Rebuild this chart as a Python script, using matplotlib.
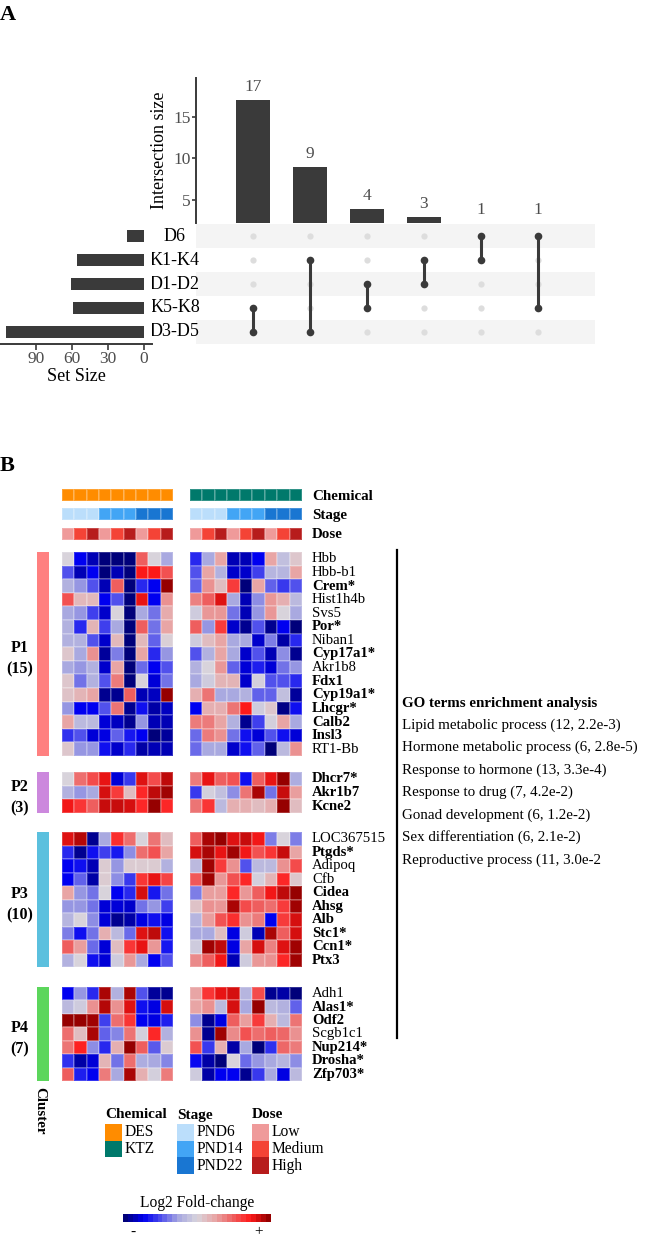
import numpy as np
import matplotlib
matplotlib.use("Agg")
import matplotlib.pyplot as plt
from matplotlib.colors import LinearSegmentedColormap, ListedColormap, Normalize
from matplotlib.patches import Rectangle
import matplotlib.colorbar as mcolorbar

plt.rcParams['font.family'] = ['Liberation Serif', 'DejaVu Serif']

W, H = 646, 1241

# Panel A: UpSet data
set_names = ["D6", "K1-K4", "D1-D2", "K5-K8", "D3-D5"]
set_sizes = [14, 56, 61, 59, 115]
inter_sizes = [17, 9, 4, 3, 1, 1]
inter_members = [["K5-K8", "D3-D5"], ["K1-K4", "D3-D5"], ["D1-D2", "K5-K8"],
                 ["K1-K4", "D1-D2"], ["D6", "K1-K4"], ["D6", "K5-K8"]]

# Panel B: column annotations (9 DES + 9 KTZ samples)
chemical = ["DES"] * 9 + ["KTZ"] * 9
stage = (["PND6"] * 3 + ["PND14"] * 3 + ["PND22"] * 3) * 2
dose = ["Low", "Medium", "High"] * 6

chem_colors = {"DES": "#FF8C00", "KTZ": "#00796B"}
stage_colors = {"PND6": "#BBDEFB", "PND14": "#42A5F5", "PND22": "#1976D2"}
dose_colors = {"Low": "#EF9A9A", "Medium": "#F44336", "High": "#B71C1C"}

# clusters
cluster_names = ["P1", "P2", "P3", "P4"]
cluster_colors = ["#FF8080", "#CC88DD", "#5BC0DE", "#5CD65C"]

p1_genes = ["Hbb", "Hbb-b1", "Crem*", "Hist1h4b", "Svs5", "Por*", "Niban1", "Cyp17a1*",
            "Akr1b8", "Fdx1", "Cyp19a1*", "Lhcgr*", "Calb2", "Insl3", "RT1-Bb"]
p2_genes = ["Dhcr7*", "Akr1b7", "Kcne2"]
p3_genes = ["LOC367515", "Ptgds*", "Adipoq", "Cfb", "Cidea", "Ahsg", "Alb", "Stc1*", "Ccn1*", "Ptx3"]
p4_genes = ["Adh1", "Alas1*", "Odf2", "Scgb1c1", "Nup214*", "Drosha*", "Zfp703*"]

bold_genes = ["Crem*", "Por*", "Cyp17a1*", "Fdx1", "Cyp19a1*", "Lhcgr*", "Calb2", "Insl3",
              "Dhcr7*", "Akr1b7", "Kcne2", "Ptgds*", "Cidea", "Ahsg", "Alb", "Stc1*", "Ccn1*",
              "Ptx3", "Alas1*", "Odf2", "Nup214*", "Drosha*", "Zfp703*"]

# log2 fold-change, DES columns then KTZ columns
p1_vals = [
    [0, -3, -3.5, -4, -4, -4, 2, 0, -1, -2.5, -1, 1, -3.5, -3.5, -3, 1, -0.5, 0.3],
    [-2, -3.5, -3, -4, -3.5, -4, 3, 3, 2.2, -2, 1, -0.8, -3.3, -3.3, -2.2, -0.7, -0.7, 1],
    [-0.8, -1.2, -2, -3.5, 2, -4, -2.5, -3, 4, -1.8, 1.3, 0.5, 2.5, -4, 1, -1.8, -2.3, -2],
    [2.2, 0.6, 0.6, -3, -2, -4, 3.2, -3, 1.3, 1.5, 2, 3.3, -1, -3.5, -1.3, 1.2, 0.8, -0.6],
    [-1, -1.2, -2.2, -3.3, 0, -4, -1, -1.6, 0.9, -0.2, 1.2, 1.2, -1.6, -3.5, -1.2, 1.2, 0, -1],
    [-0.8, -2.5, 0.7, -2.2, -1, -4, 2, -1.6, 1, 2, -1.2, 2.5, -3.3, -3.8, -2, -3.8, -3, -4],
    [-0.8, -0.8, -2, -3.3, 0.6, -4, 0.6, -1.8, 0.1, -0.2, 0.5, 1, -1, -1, -3.3, -1.5, -3.6, -2.5],
    [0.3, -1, 1.3, -3.7, -1.5, -4, 1, -2.5, -1.2, -2, -0.8, 1, -1, -3.3, -2, -3.5, -1.3, -3.8],
    [-1, -1.2, -0.8, -3.3, 1, -4, -1.7, -3, -2, -0.8, 0, 1.2, -1.8, -3.2, -2.6, -3.2, -1.6, -1.2],
    [0.3, -1.6, -0.8, -2, 1.6, -4, 0, -3.2, -1.6, -1, -0.2, 0.7, 0.7, -3.3, -0.1, -2, -2, -2.5],
    [0.4, 0.7, 1, -3.8, -3.8, 2, -3.5, -3.4, 4, 0.8, 1.7, -1, -1, -0.8, -1.8, -1.8, -0.5, -3.7],
    [-1.2, -3, -3, -2, 1.7, -3.8, -2.8, -3.6, -3.4, -3, 0.8, 0.8, 1.7, 3, -0.2, 0.3, -3.9, -2.8],
    [1, -0.6, -0.6, -3.2, -3.4, -3.8, -1.2, -3.5, -3.5, 1.6, 1.6, 1, -0.8, -3.8, -2.2, -0.1, 1, -1],
    [-2.4, -2, -3.2, -3.1, -1.8, -2.7, -3, -4, -3.7, -1.7, 1.6, 1.3, -1.6, -2.8, -3.2, -2, -2.8, -3.2],
    [0.3, -1.2, -1.2, -2.8, -3.3, -2.5, -3.6, -3.5, -3.5, -1.7, -1, -1, -3.3, -2.8, -1.8, -4, -0.6, 1.3],
]
p2_vals = [
    [0, 1.8, 2.3, 3.2, -3.2, -2.3, 3.3, 2.3, 3.6, 1.6, 3.2, 2, 2.2, -2.8, 2, 3.2, 4, -0.9],
    [-0.8, -1.2, -1, 3.4, 2.5, 0.5, 2.8, 3.6, 3.9, -2.3, -0.1, -0.5, -1.3, 1.7, 3.8, -1.6, 3.5, 1.1],
    [3.1, 2.6, 2, 3.5, 3.5, 3.4, 2.8, 4, 2.8, 1.7, 2.6, -0.6, 0.8, 0.8, 0.5, 0.8, 4, 0.5],
]
p3_vals = [
    [3.3, 3.7, -3.8, -1, 2.7, 1.8, 0, 1.7, 0.5, 2, 3.8, 4, 3.3, 3.5, 3.1, -1.5, 0, -1.5],
    [-2.5, -3.8, -2.8, -2.2, -2.7, -1.3, 1.8, 2.2, 1, 3.4, 3.8, 3.2, 3.9, 3.1, 2.2, 2.6, 3.5, 1],
    [-3, -2.8, -3.5, 0.2, -1.2, 0.2, 0.2, 0.2, -0.8, -0.6, 3.9, 2.5, 1.3, -2, -0.6, -0.6, 1.3, 2.3],
    [-3, -1.8, -3.6, 0.2, -1.3, -2.3, 2.6, 3.2, 2.4, 2.1, 3.9, 1.2, 2.2, 2.8, -0.1, 0.7, 2.8, 0.3],
    [1, -1.2, -1.6, 0, -3, -2.5, 3.4, -2.7, -1.6, -1.5, 1.1, 1.1, 2.8, 1.2, 2, 3.1, 3.6, 4],
    [-1.2, -1.2, -1.6, -3.2, -3.2, -3.3, -1.6, -1.2, -2.2, 0.4, 1.3, 1.2, 3.8, 2.3, 2, 1.8, 2.5, 3.9],
    [-0.7, 0, -1.3, -3.2, -3.8, -3.6, -3.1, -2.8, -3.1, -0.7, 1.1, 2.2, 2.7, 1.3, 1.6, -3, 2.5, 3.4],
    [-1.5, -2.8, -1.6, 0.8, -0.6, -1.7, 3.3, 3.6, -2.8, -1, -1, 0.5, -3.1, -0.2, -3.5, 3.8, 2, 3.4],
    [2, 1.1, -1.7, -3.2, 0.5, 2.6, 3.2, 1.2, -2.7, -0.2, 3.9, 3.6, -3.1, 1, 3.4, 1.5, 3.3, 3.9],
    [-0.8, 0, -2.8, -3.2, -0.2, 1.2, -1, -3, -2, 1.4, 2, 3.1, -3.5, -0.2, 1.2, 1.3, 2.8, 3.9],
]
p4_vals = [
    [-3, -1.2, -2.5, 3.8, -0.8, 3.8, -2, -3.7, -3.8, 1, 2.6, 3.2, 3.4, -0.7, 2.3, -3.8, -3.6, -4],
    [-0.6, -0.2, 1.3, 3.7, 1.3, 3.3, -2.8, -3.1, 3.4, 1, 1.3, -0.6, 3.4, -1, 4, -0.6, -0.8, -1.8],
    [4, 4, 3.9, -2.2, 1.8, 2.6, -3, -3.1, -2.6, -1.3, -3.8, -3.1, 2, 1.1, 2.5, 0.8, -0.6, 1.7],
    [1.8, 0.5, 3.8, -1.8, -1.4, 1.7, -0.1, 2.8, -0.8, 1.3, -3.8, 3.9, 1.4, 2.2, 1.8, 2, 1.9, 1.3],
    [1.7, 2.9, -1.3, -2.5, 0.8, 4, 2, -1.9, 0.2, 2.2, -2.3, 0.8, -3.6, -1, -4, -2.4, 1.9, 1.6],
    [-2.4, -3.6, -3.2, 0.7, -1.6, 1.8, -0.9, -1, -1.4, -2.9, -3.6, -4, 0, -1.7, -1.2, -1, -0.7, -1.3],
    [2, -2.6, -3, 1.6, -1, 3.8, 0.8, -0.1, 1.6, -0.2, -3.6, -3, -3, -3.8, -2.3, -1, -3.1, -0.6],
]

go_title = "GO terms enrichment analysis"
go_terms = ["Lipid metabolic process (12, 2.2e-3)",
            "Hormone metabolic process (6, 2.8e-5)",
            "Response to hormone (13, 3.3e-4)",
            "Response to drug (7, 4.2e-2)",
            "Gonad development (6, 1.2e-2)",
            "Sex differentiation (6, 2.1e-2)",
            "Reproductive process (11, 3.0e-2"]


def px_axes(fig, x0, y0, x1, y1):
    """Add axes from pixel box (top-left origin)."""
    return fig.add_axes([x0 / W, 1 - y1 / H, (x1 - x0) / W, (y1 - y0) / H])


fig = plt.figure(figsize=(W / 100, H / 100), dpi=100)

dark = "#3A3A3A"
tick_grey = "#4D4D4D"

# ---------------- Panel A ----------------
ax_bar = px_axes(fig, 196, 78, 595, 223)
xs = np.arange(len(inter_sizes))
ax_bar.bar(xs, inter_sizes, width=0.58, color=dark)
ax_bar.set_xlim(-1, 6)
ax_bar.set_ylim(2.3, 19.6)
for x, v in zip(xs, inter_sizes):
    ax_bar.text(x, max(v, 2.3) + 0.6, str(v), ha='center', va='bottom',
                fontsize=12.5, color=tick_grey, clip_on=False)
for s in ["top", "right", "bottom"]:
    ax_bar.spines[s].set_visible(False)
ax_bar.spines["left"].set_color(dark)
ax_bar.spines["left"].set_linewidth(1.4)
ax_bar.set_xticks([])
ax_bar.set_yticks([5, 10, 15])
ax_bar.tick_params(axis='y', labelsize=12.5, labelcolor=tick_grey, color=dark, length=3, width=1.2, pad=1)
ax_bar.set_ylabel("Intersection size", fontsize=13, labelpad=4)

ax_mat = px_axes(fig, 196, 224, 595, 344)
ax_mat.set_xlim(-1, 6)
ax_mat.set_ylim(len(set_names) - 0.5, -0.5)
for i in range(0, len(set_names), 2):
    ax_mat.axhspan(i - 0.5, i + 0.5, color="#F4F4F4", lw=0)
for xi, members in enumerate(inter_members):
    idx = [set_names.index(m) for m in members]
    for yi in range(len(set_names)):
        if yi not in idx:
            ax_mat.plot(xi, yi, 'o', color="#DDDDDD", ms=4.5, mec='none')
    ax_mat.plot([xi, xi], [min(idx), max(idx)], '-', color=dark, lw=2.2)
    ax_mat.plot([xi] * len(idx), idx, 'o', color=dark, ms=5.5, mec='none')
for yi, name in enumerate(set_names):
    ax_mat.text(-1.37, yi, name, ha='center', va='center', fontsize=13, clip_on=False)
ax_mat.axis('off')

ax_set = px_axes(fig, 0, 224, 152, 344)
ax_set.barh(np.arange(len(set_names)), set_sizes, height=0.5, color=dark)
ax_set.set_xlim(120, -6.7)
ax_set.set_ylim(len(set_names) - 0.5, -0.5)
for s in ["top", "right", "left"]:
    ax_set.spines[s].set_visible(False)
ax_set.spines["bottom"].set_color(dark)
ax_set.spines["bottom"].set_linewidth(1.4)
ax_set.set_yticks([])
ax_set.set_xticks([90, 60, 30, 0])
ax_set.tick_params(axis='x', labelsize=12.5, labelcolor=tick_grey, color=dark, length=4, width=1.2, pad=1)
ax_set.set_xlabel("Set Size", fontsize=13, labelpad=1)

# ---------------- Panel B ----------------
vmax = 4
cmap = LinearSegmentedColormap.from_list(
    "lfc", [(0.0, "#00007A"), (0.125, "#0000F0"), (0.25, "#5050EC"), (0.375, "#A8A8E0"),
            (0.5, "#D8D4DC"), (0.625, "#E8A6A6"), (0.75, "#EE6060"), (0.875, "#FF1A1A"),
            (1.0, "#960000")])
norm = Normalize(-vmax, vmax)
edge = (1, 1, 1, 0.2)

col_blocks = [(62, 173, slice(0, 9)), (190, 302, slice(9, 18))]

# annotation bars
annots = [("Chemical", chemical, chem_colors, 489, 501),
          ("Stage", stage, stage_colors, 508, 520),
          ("Dose", dose, dose_colors, 528, 540)]
for title, labels, cdict, y0, y1 in annots:
    keys = list(cdict.keys())
    codes = np.array([[keys.index(l) for l in labels]])
    acmap = ListedColormap([cdict[k] for k in keys])
    for x0, x1, sl in col_blocks:
        ax = px_axes(fig, x0, y0, x1, y1)
        ax.pcolormesh(codes[:, sl], cmap=acmap, vmin=-0.5, vmax=len(keys) - 0.5,
                      edgecolors=edge, linewidth=0.3)
        ax.set_ylim(1, 0)
        ax.axis('off')

blocks = [(p1_genes, p1_vals, 552, 756), (p2_genes, p2_vals, 772, 813),
          (p3_genes, p3_vals, 832, 967), (p4_genes, p4_vals, 987, 1081)]

ov = fig.add_axes([0, 0, 1, 1])
ov.set_xlim(0, W)
ov.set_ylim(H, 0)
ov.axis('off')

for k, (genes, vals, y0, y1) in enumerate(blocks):
    arr = np.array(vals)
    n = len(genes)
    for bi, (x0, x1, sl) in enumerate(col_blocks):
        ax = px_axes(fig, x0, y0, x1, y1)
        ax.pcolormesh(arr[:, sl], cmap=cmap, norm=norm, edgecolors=edge, linewidth=0.3)
        ax.set_ylim(n, 0)
        ax.axis('off')
        if bi == 1:
            for i, g in enumerate(genes):
                ax.text(9.8, i + 0.5, g, ha='left', va='center', fontsize=10.6,
                        fontweight='bold' if g in bold_genes else 'normal', clip_on=False)
    # cluster side bar
    ov.add_patch(Rectangle((37, y0), 12, y1 - y0, color=cluster_colors[k], lw=0))
    ov.text(20, (y0 + y1) / 2 + 5, f"{cluster_names[k]}\n({n})", ha='center', va='center',
            fontsize=11.5, fontweight='bold', linespacing=1.45)

for title, labels, cdict, y0, y1 in annots:
    ov.text(312, (y0 + y1) / 2 + 1, title, ha='left', va='center', fontsize=10.8, fontweight='bold')

ov.text(40, 1087, "Cluster", rotation=270, ha='center', va='top', fontsize=10.8, fontweight='bold')

# GO terms
ov.plot([397, 397], [550, 1038], color='black', lw=1.6)
ov.text(402, 703, go_title, ha='left', va='center', fontsize=10.8, fontweight='bold')
for i, t in enumerate(go_terms):
    ov.text(402, 725 + i * 22.5, t, ha='left', va='center', fontsize=10.8)

# legends
leg_items = [("Chemical", chem_colors, 105), ("Stage", stage_colors, 177), ("Dose", dose_colors, 252)]
for title, cdict, lx in leg_items:
    ov.text(lx, 1115, title, ha='left', va='center', fontsize=11, fontweight='bold')
    for i, (lab, col) in enumerate(cdict.items()):
        ov.add_patch(Rectangle((lx, 1124 + i * 16.5), 16.5, 16.5, color=col, lw=0))
        ov.text(lx + 20, 1124 + i * 16.5 + 8.5, lab, ha='left', va='center', fontsize=11.2)

# colour key
ov.text(197, 1203, "Log2 Fold-change", ha='center', va='center', fontsize=11.2)
cb_ax = px_axes(fig, 123, 1214, 271, 1222)
cb = mcolorbar.ColorbarBase(cb_ax, cmap=cmap.resampled(30), norm=norm, orientation='horizontal')
cb.outline.set_visible(False)
cb.set_ticks([])
ov.text(133, 1232, "-", ha='center', va='center', fontsize=11)
ov.text(259, 1232, "+", ha='center', va='center', fontsize=11)

# panel letters
ov.text(0, 15, "A", ha='left', va='center', fontsize=16, fontweight='bold')
ov.text(0, 466, "B", ha='left', va='center', fontsize=16, fontweight='bold')

fig.savefig("out.png", dpi=100)
